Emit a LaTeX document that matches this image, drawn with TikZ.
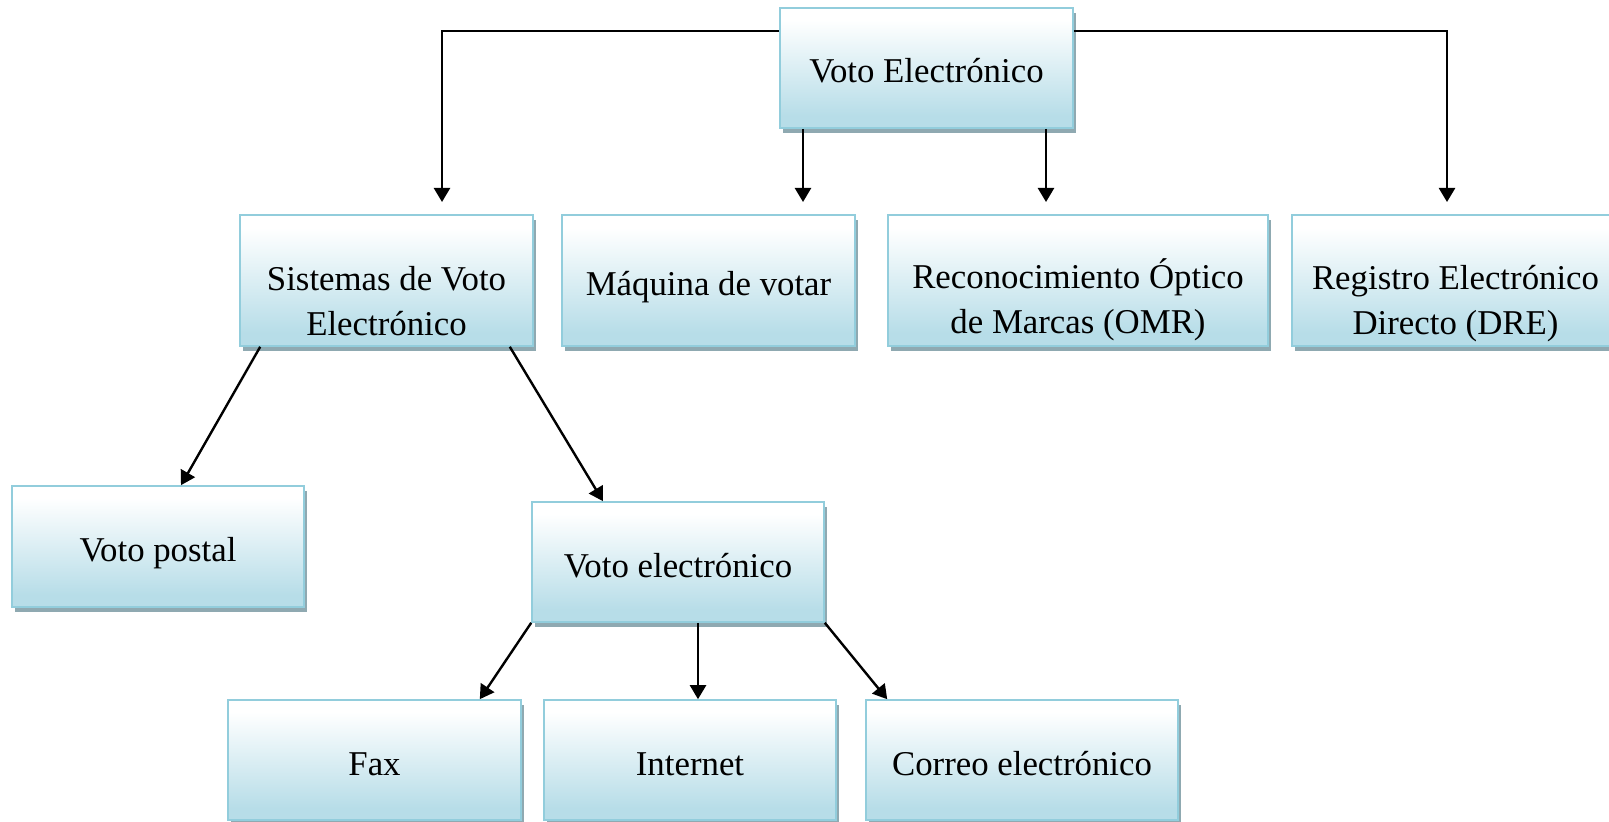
\documentclass[tikz,border=0pt]{standalone}
\usepackage{fontspec}
\setmainfont{Liberation Serif}
\usetikzlibrary{arrows.meta, shadows, calc}
\definecolor{boxblue}{HTML}{B7DDE8}
\definecolor{boxline}{HTML}{92CDDC}
\definecolor{boxshadow}{HTML}{8FA9B1}
\pgfdeclareverticalshading{boxshade}{100bp}{color(0bp)=(boxblue); color(30bp)=(boxblue); color(70bp)=(white); color(100bp)=(white)}
\tikzset{
    box/.style 2 args={
        rectangle, draw=boxline, line width=0.8pt, shade, shading=boxshade, inner sep=0pt,
        minimum width=#1*0.5pt, minimum height=#2*0.5pt, text height=15pt, text depth=0pt,
        drop shadow={shadow xshift=1.5pt, shadow yshift=-2.5pt, fill=boxshadow, opacity=1}
    },
    txt/.style={align=center, font=\fontsize{17.4}{22.5}\selectfont},
    conn/.style={line width=1.2pt, -{Triangle[length=7pt,width=8pt]}}
}

\begin{document}
\begin{tikzpicture}[x=0.5pt, y=-0.5pt]
    \useasboundingbox (0,0) rectangle (1609,822);
    % boxes
    \node[box={293}{120}, txt] (voto) at (926.5,68) {Voto Electrónico};
    \node[box={293}{131}] (sistemas) at (386.5,280.5) {};
    \node[box={293}{131}, txt] (maquina) at (708.5,280.5) {Máquina de votar};
    \node[box={380}{131}] (reconoc) at (1078,280.5) {};
    \node[box={327}{131}] (registro) at (1455.5,280.5) {};
    \node[box={292}{121}, txt] (postal) at (158,546.5) {Voto postal};
    \node[box={292}{120}, txt] (velec) at (678,562) {Voto electrónico};
    \node[box={293}{120}, txt] (fax) at (374.5,760) {Fax};
    \node[box={292}{120}, txt] (internet) at (690,760) {Internet};
    \node[box={312}{120}, txt] (correo) at (1022,760) {Correo electrónico};
    % two-line texts
    \node[txt] (sistemas-t) at (386.5,301) {Sistemas de Voto\\Electrónico};
    \node[txt] (reconoc-t) at (1078,300) {Reconocimiento Óptico\\de Marcas (OMR)};
    \node[txt] (registro-t) at (1455.5,304) {Registro Electrónico\\Directo (DRE)};
    % arrow ends above the second row
    \coordinate (sistemas-in) at (442,202);
    \coordinate (maquina-in) at (803,202);
    \coordinate (reconoc-in) at (1046,202);
    \coordinate (registro-in) at (1447,202);
    \draw[conn] ([yshift=18.5pt]voto.west) -| (sistemas-in);
    \draw[conn] ([yshift=18.5pt]voto.east) -| (registro-in);
    \draw[conn] (voto.south -| maquina-in) -- (maquina-in);
    \draw[conn] (voto.south -| reconoc-in) -- (reconoc-in);
    \draw[conn] ([xshift=10.5pt]sistemas.south west) -- ([xshift=11.5pt]postal.north);
    \draw[conn] ([xshift=-12pt]sistemas.south east) -- ([xshift=-37.5pt]velec.north);
    \draw[conn] (velec.south west) -- ([xshift=-21pt]fax.north east);
    \draw[conn] ([xshift=10pt]velec.south) -- ([xshift=4pt]internet.north);
    \draw[conn] (velec.south east) -- ([xshift=11pt]correo.north west);
\end{tikzpicture}
\end{document}
